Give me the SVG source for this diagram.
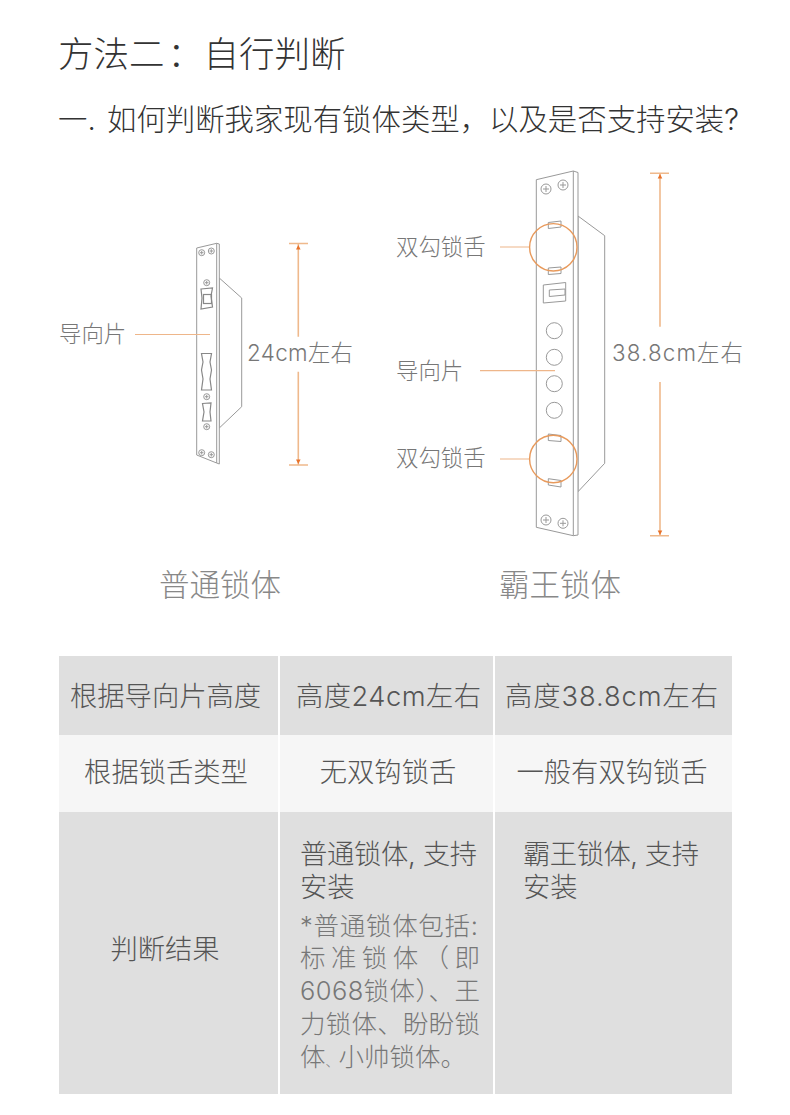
<svg xmlns="http://www.w3.org/2000/svg" width="790" height="1115" viewBox="0 0 790 1115">
<style>
text{font-family:Inter,"Noto Sans CJK SC","Liberation Sans",sans-serif;font-weight:300}
.h{font-size:35.500px;fill:#333}
.h2{font-size:29.400px;fill:#333}
.l{font-size:22.400px;fill:#777}
.cap{font-size:30.500px;fill:#888}
.c{font-size:27.300px;fill:#555}
.s{font-size:25.500px;fill:#777}
.m{text-anchor:middle}
.g{fill:#fff;stroke:#999;stroke-width:1}
.g2{fill:none;stroke:#999;stroke-width:1}
.b{fill:none;stroke:#888;stroke-width:1.200}
.o{fill:none;stroke:#e89a5c;stroke-width:1.400}
.t{fill:none;stroke:#eeb68a;stroke-width:1.200}
.d{fill:none;stroke:#efb98c;stroke-width:1.600}
.a{fill:#e8722a}
</style>
<defs>
<g id="sw"><circle r="3" class="g2"/><path d="M-1.800 0H1.800M0-1.800V1.800" class="g2"/></g>
<g id="sb"><circle r="5" class="g2"/><path d="M-3 0H3M0-3V3" class="g2"/></g>
</defs>
<rect width="790" height="1115" fill="#fff"/>
<text class="h" x="58" y="67">方法二<tspan dx="3">：</tspan><tspan x="203.500">自行判断</tspan></text>
<text class="h2" x="58" y="130">一.<tspan x="107">如何判断我家现有锁体类型，以及是否支持安装?</tspan></text>

<g id="lock-normal">
<path class="g" d="M219.300 278L241.700 298V406.700L219.300 428Z"/>
<path class="g" d="M196.700 248L216.700 243.300L219.300 244V464L216.700 463L196.700 455Z"/>
<path class="g2" d="M216.700 243.300V463"/>
<use href="#sw" x="201.700" y="252.700"/><use href="#sw" x="211.300" y="251"/>
<use href="#sw" x="206.700" y="282.700"/><use href="#sw" x="206.700" y="396.700"/>
<use href="#sw" x="206.700" y="426.700"/><use href="#sw" x="201.700" y="452.700"/><use href="#sw" x="211.300" y="454.700"/>
<path class="b" d="M201 289L212.500 288L211 296L212.500 307L201 309L202 298Z"/>
<rect class="b" x="203.500" y="294.500" width="8" height="9"/>
<path class="b" d="M201.500 353.500H211.500L210 362L211.500 370L210 379L211.500 390H201.500L203 379L201.500 370L203 362Z"/>
<path class="b" d="M202.500 403.500L211 403L210 412L211 421L202.500 421L204 412Z"/>
</g>

<g id="lock-overlord">
<path class="g" d="M578 216L604.700 235.700V463.300L578 491.700Z"/>
<path class="g" d="M536.300 179.700L573.300 171L578 172.500V535L573.300 535.700L536.300 527.300Z"/>
<path class="g2" d="M573.300 171V535.700"/>
<use href="#sb" x="546" y="189"/><use href="#sb" x="563" y="185"/>
<use href="#sb" x="546" y="520"/><use href="#sb" x="563" y="523.300"/>
<path class="g2" d="M548.300 222.500L561 221V227L548.300 228.500ZM548.300 268L561 267V273.500L548.300 274.500ZM548.300 434L561 435.500V441.500L548.300 440.500ZM548.300 478.700L561 480.500V487L548.300 485Z"/>
<path class="g2" d="M543.300 285L565.700 282.500V301L543.300 303ZM549.300 290L565 289V295L549.300 296.500Z"/>
<circle class="g2" cx="554.300" cy="330.700" r="8"/><circle class="g2" cx="554.300" cy="357.300" r="8"/>
<circle class="g2" cx="554.300" cy="383.700" r="8"/><circle class="g2" cx="554.300" cy="410.300" r="8"/>
</g>

<g id="connectors">
<path class="t" d="M135 334.500H210M500 247H530M480 370.700H555M500 459H530"/>
<circle class="o" cx="553.300" cy="247.300" r="23.700"/>
<circle class="o" cx="553.300" cy="459" r="23.700"/>
<path class="d" d="M298.300 244V336.700M298.300 371.700V465M660 173.300V326.700M660 382V535.700"/>
<path class="d" d="M289 243.500H308M289 465H308M650 173.300H669M650 535.700H669"/>
<path class="a" d="M298.300 245L296 249.500H300.600ZM298.300 464L296 459.500H300.600ZM660 174L657.700 178.500H662.300ZM660 535L657.700 530.500H662.300Z"/>
</g>

<g id="labels">
<text class="l" x="59" y="342">导向片</text>
<text class="l" x="247" y="361" textLength="106" lengthAdjust="spacing">24cm左右</text>
<text class="l" x="396" y="255">双勾锁舌</text>
<text class="l" x="396" y="379">导向片</text>
<text class="l" x="396" y="466">双勾锁舌</text>
<text class="l" x="612" y="361" textLength="131" lengthAdjust="spacing">38.8cm左右</text>
<text class="cap m" x="220" y="596">普通锁体</text>
<text class="cap m" x="560" y="596">霸王锁体</text>
</g>

<g id="table">
<rect x="59" y="656" width="673" height="79" fill="#dfdfdf"/>
<rect x="59" y="735" width="673" height="77" fill="#f6f6f6"/>
<rect x="59" y="812" width="673" height="282" fill="#dfdfdf"/>
<rect x="278" y="656" width="2" height="438" fill="#fff"/>
<rect x="493" y="656" width="2" height="438" fill="#fff"/>
<text class="c" x="70" y="706">根据导向片高度</text>
<text class="c" x="296" y="706" textLength="185" lengthAdjust="spacing">高度24cm左右</text>
<text class="c" x="505" y="706" textLength="213" lengthAdjust="spacing">高度38.8cm左右</text>
<text class="c m" x="166" y="782">根据锁舌类型</text>
<text class="c m" x="388" y="782">无双钩锁舌</text>
<text class="c m" x="612" y="782">一般有双钩锁舌</text>
<text class="c m" x="165" y="959">判断结果</text>
<text class="c" x="300" y="864" textLength="177" lengthAdjust="spacing">普通锁体, 支持</text>
<text class="c" x="300" y="897">安装</text>
<text class="c" x="523" y="864" textLength="176" lengthAdjust="spacing">霸王锁体, 支持</text>
<text class="c" x="523" y="897">安装</text>
<text class="s" x="300" y="935" textLength="178" lengthAdjust="spacing">*普通锁体包括:</text>
<text class="s" x="300" y="967" textLength="180" lengthAdjust="spacing">标准锁体（即</text>
<text class="s" x="300" y="1000" textLength="180" lengthAdjust="spacing">6068锁体）、王</text>
<text class="s" x="300" y="1033" textLength="180" lengthAdjust="spacing">力锁体、盼盼锁</text>
<text class="s" x="300" y="1066">体<tspan style="font-size:13px">、</tspan>小帅锁体。</text>
</g>
</svg>
